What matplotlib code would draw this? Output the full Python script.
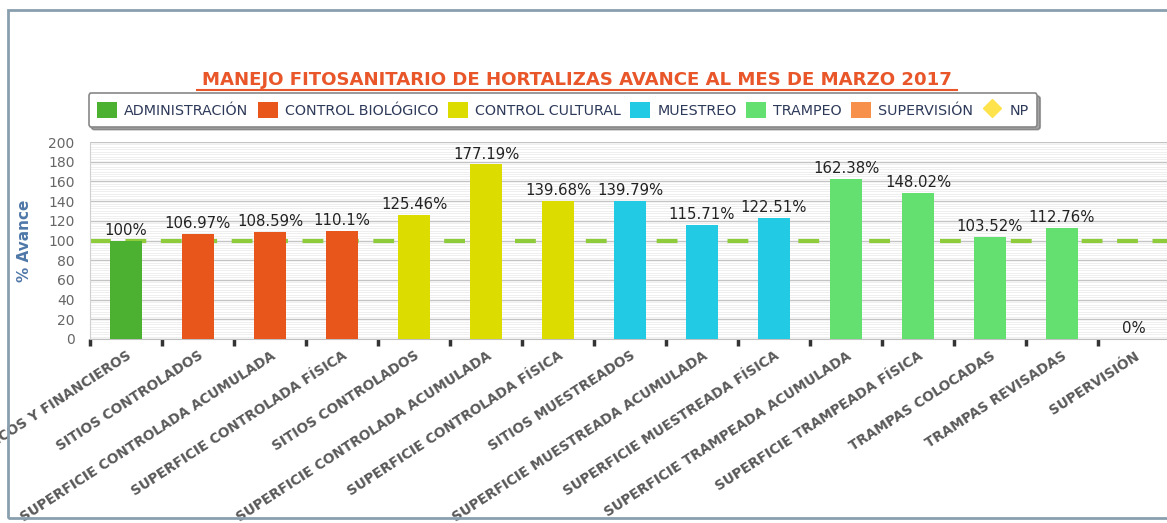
import numpy as np
import matplotlib.pyplot as plt
from matplotlib.patches import Patch, Rectangle
from matplotlib.lines import Line2D

# datos del reporte
categorias = [
    "INFORMES TÉCNICOS Y FINANCIEROS",
    "SITIOS CONTROLADOS",
    "SUPERFICIE CONTROLADA ACUMULADA",
    "SUPERFICIE CONTROLADA FÍSICA",
    "SITIOS CONTROLADOS",
    "SUPERFICIE CONTROLADA ACUMULADA",
    "SUPERFICIE CONTROLADA FÍSICA",
    "SITIOS MUESTREADOS",
    "SUPERFICIE MUESTREADA ACUMULADA",
    "SUPERFICIE MUESTREADA FÍSICA",
    "SUPERFICIE TRAMPEADA ACUMULADA",
    "SUPERFICIE TRAMPEADA FÍSICA",
    "TRAMPAS COLOCADAS",
    "TRAMPAS REVISADAS",
    "SUPERVISIÓN",
]
avance = [100, 106.97, 108.59, 110.1, 125.46, 177.19, 139.68, 139.79,
          115.71, 122.51, 162.38, 148.02, 103.52, 112.76, 0]
etiquetas = ["100%", "106.97%", "108.59%", "110.1%", "125.46%", "177.19%",
             "139.68%", "139.79%", "115.71%", "122.51%", "162.38%",
             "148.02%", "103.52%", "112.76%", "0%"]
grupo = ["ADMINISTRACIÓN", "CONTROL BIOLÓGICO", "CONTROL BIOLÓGICO",
         "CONTROL BIOLÓGICO", "CONTROL CULTURAL", "CONTROL CULTURAL",
         "CONTROL CULTURAL", "MUESTREO", "MUESTREO", "MUESTREO",
         "TRAMPEO", "TRAMPEO", "TRAMPEO", "TRAMPEO", "SUPERVISIÓN"]
series = ["ADMINISTRACIÓN", "CONTROL BIOLÓGICO", "CONTROL CULTURAL",
          "MUESTREO", "TRAMPEO", "SUPERVISIÓN"]
colores = {
    "ADMINISTRACIÓN": "#4cb130",
    "CONTROL BIOLÓGICO": "#e8561c",
    "CONTROL CULTURAL": "#dcdc00",
    "MUESTREO": "#22cbe3",
    "TRAMPEO": "#63e06f",
    "SUPERVISIÓN": "#f7904b",
}
meta = 100

W, H = 1167, 523
fig = plt.figure(figsize=(W / 100, H / 100), dpi=100)
ax = fig.add_axes([90 / W, (H - 339) / H, 1080 / W, 197 / H])

x = np.arange(len(categorias))
ax.bar(x, avance, width=0.44, color=[colores[g] for g in grupo], zorder=3)
ax.axhline(meta, color="#8fcc3c", lw=3, ls=(0, (5, 3.5)), zorder=2)

for xi, v, t in zip(x, avance, etiquetas):
    ax.text(xi, v + 3, t, ha="center", va="bottom", fontsize=10.7,
            color="#222222", zorder=4)

# ejes
ax.set_xlim(-0.5, len(categorias) - 0.5)
ax.set_ylim(0, 200)
ax.set_yticks(np.arange(0, 201, 20))
ax.set_yticks(np.arange(0, 201, 2.5), minor=True)
ax.grid(axis="y", which="major", color="#c4c4c4", lw=1, zorder=1)
ax.grid(axis="y", which="minor", color="#ececec", lw=0.6, zorder=0)
ax.tick_params(axis="y", which="both", length=0, labelsize=10,
               labelcolor="#666666", pad=11)

ax.set_xticks(x)
ax.set_xticklabels(categorias, rotation=33, ha="right", va="top",
                   rotation_mode="anchor", fontsize=9.8, fontweight="bold",
                   color="#5a5a5a")
ax.tick_params(axis="x", which="major", length=0, pad=7)
ax.set_xticks(np.arange(-0.5, len(categorias), 1), minor=True)
ax.tick_params(axis="x", which="minor", length=5, width=2.5,
               color="#333333")

for s in ["top", "right"]:
    ax.spines[s].set_visible(False)
ax.spines["left"].set_color("#d0d0d0")
ax.spines["bottom"].set_color("#c0c0c0")

ax.set_ylabel("% Avance", fontsize=11, fontweight="bold", color="#4f78a8",
              labelpad=12)

# titulo
fig.text(577 / W, 1 - 80 / H,
         "MANEJO FITOSANITARIO DE HORTALIZAS AVANCE AL MES DE MARZO 2017",
         ha="center", va="center", fontsize=13.1, fontweight="bold",
         color="#e8562a")
fig.add_artist(Line2D([197 / W, 957 / W], [1 - 90 / H, 1 - 90 / H],
                      color="#e8562a", lw=1.5))

# leyenda
handles = [Patch(facecolor=colores[s], label=s) for s in series]
handles.append(Line2D([], [], marker="D", ls="none", color="#ffe34d",
                      markersize=9, label="NP"))
leg = fig.legend(handles=handles, loc="center", ncol=7,
                 bbox_to_anchor=(563 / W, 1 - 110 / H), frameon=True,
                 fancybox=True, shadow=True, fontsize=10.3,
                 handlelength=1.4, handleheight=1.4, handletextpad=0.5,
                 columnspacing=0.65, borderpad=0.6, labelcolor="#2e3a5a")
leg.get_frame().set_edgecolor("#888888")
leg.get_frame().set_linewidth(1.2)

# marco exterior
fig.add_artist(Rectangle((8 / W, 1 - 518 / H), 1.2, (518 - 10) / H,
                         transform=fig.transFigure, fill=False,
                         edgecolor="#8a9fae", lw=2, zorder=10))

fig.savefig("out.png", dpi=100)
